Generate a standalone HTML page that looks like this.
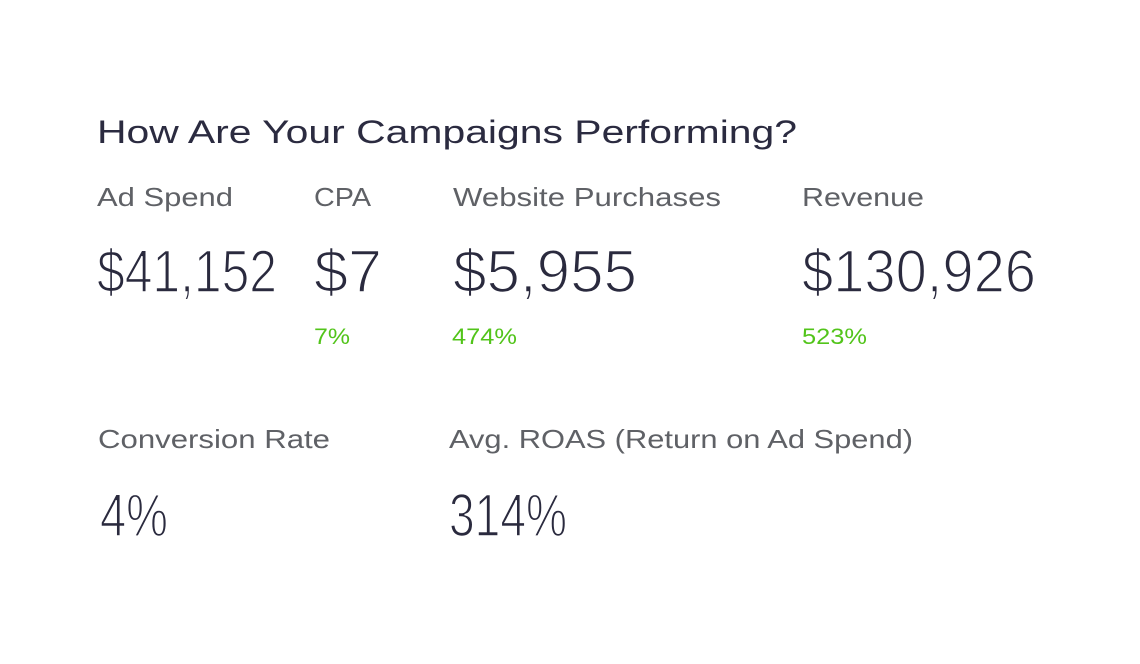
<!DOCTYPE html>
<html><head><meta charset="utf-8"><style>
html,body{margin:0;padding:0;background:#fff;}
svg{display:block;font-family:"Liberation Sans",sans-serif;}
.t{fill:#2b2b40;}
.l{fill:#5f6166;}
.v{fill:#2a2a3e;font-weight:normal;stroke:#fff;stroke-width:1.6px;}
.g{fill:#52c41a;}
</style></head><body>
<svg width="1140" height="664" viewBox="0 0 1140 664">
<rect x="0" y="0" width="1140" height="664" fill="#fff"/>
<text class="t" x="97" y="143" font-size="32" textLength="700" lengthAdjust="spacingAndGlyphs">How Are Your Campaigns Performing?</text>

<text class="l" x="97" y="206" font-size="26" textLength="136" lengthAdjust="spacingAndGlyphs">Ad Spend</text>
<text class="l" x="314" y="206" font-size="26" textLength="57" lengthAdjust="spacingAndGlyphs">CPA</text>
<text class="l" x="453" y="206" font-size="26" textLength="268" lengthAdjust="spacingAndGlyphs">Website Purchases</text>
<text class="l" x="802" y="206" font-size="26" textLength="122" lengthAdjust="spacingAndGlyphs">Revenue</text>

<text class="v" x="97" y="292" font-size="60" textLength="180" lengthAdjust="spacingAndGlyphs">$41,152</text>
<text class="v" x="314" y="292" font-size="60" textLength="68" lengthAdjust="spacingAndGlyphs">$7</text>
<text class="v" x="453" y="292" font-size="60" textLength="184" lengthAdjust="spacingAndGlyphs">$5,955</text>
<text class="v" x="802" y="292" font-size="60" textLength="234" lengthAdjust="spacingAndGlyphs">$130,926</text>

<text class="g" x="314" y="344" font-size="22" textLength="36" lengthAdjust="spacingAndGlyphs">7%</text>
<text class="g" x="452" y="344" font-size="22" textLength="65" lengthAdjust="spacingAndGlyphs">474%</text>
<text class="g" x="802" y="344" font-size="22" textLength="65" lengthAdjust="spacingAndGlyphs">523%</text>

<text class="l" x="98" y="448" font-size="26" textLength="232" lengthAdjust="spacingAndGlyphs">Conversion Rate</text>
<text class="l" x="449" y="448" font-size="26" textLength="464" lengthAdjust="spacingAndGlyphs">Avg. ROAS (Return on Ad Spend)</text>

<text class="v" x="100" y="536" font-size="60" textLength="68" lengthAdjust="spacingAndGlyphs">4%</text>
<text class="v" x="449" y="536" font-size="60" textLength="118" lengthAdjust="spacingAndGlyphs">314%</text>
</svg>
</body></html>
